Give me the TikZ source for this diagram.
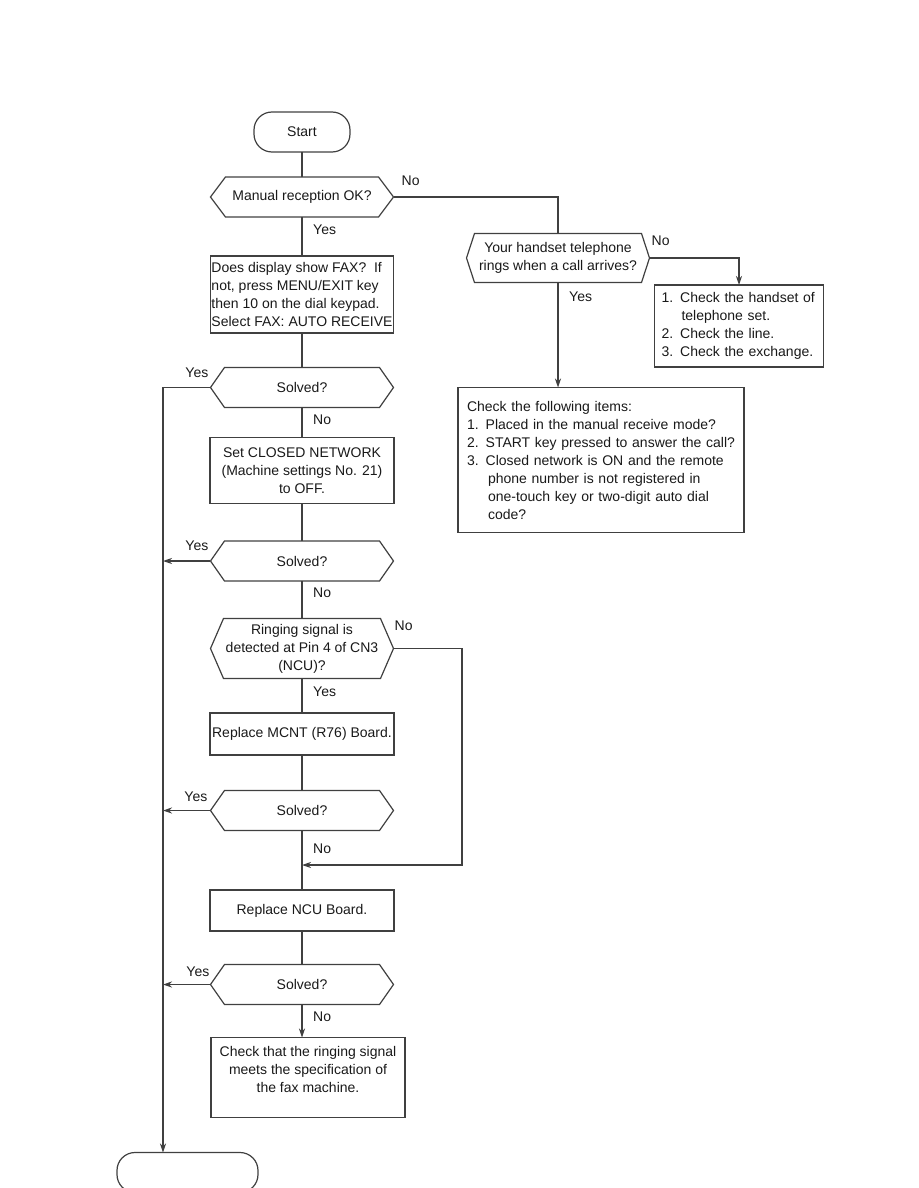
\documentclass[tikz,border=0pt]{standalone}
\usepackage{fontspec}
\setmainfont{Liberation Sans}
\usetikzlibrary{arrows.meta,positioning}

\begin{document}
\begin{tikzpicture}[
    node distance=33.5pt,
    every node/.style={font=\fontsize{14pt}{18pt}\selectfont, text=black!90},
    termbox/.style={draw=black!75, line width=1.2pt, rounded corners=18pt, minimum width=96pt, minimum height=40pt, outer sep=0pt},
    stepbox/.style={draw=black!75, line width=1.2pt, align=center, minimum width=184pt, inner sep=2pt, outer sep=0pt},
    askbox/.style={align=center, minimum width=183pt, minimum height=40pt, inner sep=0pt, outer sep=0pt},
    lbl/.style={inner sep=1pt},
    wire/.style={draw=black!75, line width=1.2pt},
    link/.style={wire, -{Stealth[length=9pt, width=6pt]}}
]
\useasboundingbox (-302pt,-1056pt) rectangle (616pt,132pt);
% main column
\node[termbox] (start) at (0,0) {Start};
\node[askbox, below=25pt of start] (ok) {Manual reception OK?};
\node[stepbox, align=left, inner xsep=1pt, minimum width=180pt, minimum height=77pt, below=39pt of ok] (fax) {Does display show FAX?~ If\\not, press MENU/EXIT key\\then 10 on the dial keypad.\\Select FAX: AUTO RECEIVE};
\node[askbox, below=34.5pt of fax] (solvedA) {Solved?};
\node[stepbox, minimum height=66pt, below=30pt of solvedA] (closed) {Set CLOSED NETWORK\\(Machine settings No. 21)\\to OFF.};
\node[askbox, below=37.5pt of closed] (solvedB) {Solved?};
\node[askbox, minimum height=60pt, below=37.5pt of solvedB] (ring) {Ringing signal is\\detected at Pin 4 of CN3\\(NCU)?};
\node[stepbox, minimum height=42pt, below=34.5pt of ring] (mcnt) {Replace MCNT (R76) Board.};
\node[askbox, below=35.5pt of mcnt] (solvedC) {Solved?};
\node[stepbox, minimum height=41pt, below=59.5pt of solvedC] (ncu) {Replace NCU Board.};
\node[askbox, below=of ncu] (solvedD) {Solved?};
\node[stepbox, minimum width=194pt, minimum height=80pt, below=33pt of solvedD, xshift=6pt] (spec) {Check that the ringing signal\\meets the specification of\\the fax machine.\\[-8pt]\strut};
\node[termbox, minimum width=141pt, below=35pt of spec, xshift=-120.5pt] (stop) {};
% right branch
\node[askbox, minimum height=49pt, right=73pt of ok, yshift=-61pt] (handset) {Your handset telephone\\rings when a call arrives?};
\node[stepbox, align=left, text width=155pt, inner xsep=7pt, minimum width=169pt, minimum height=82pt, right=5pt of handset, yshift=-68pt] (checks) {1. Check the handset of\\\hspace*{20pt}telephone set.\\2. Check the line.\\3. Check the exchange.};
\node[stepbox, align=left, text width=268pt, inner xsep=9pt, minimum height=145pt, below=105pt of handset, xshift=43pt] (items) {Check the following items:\\1. Placed in the manual receive mode?\\2. START key pressed to answer the call?\\3. Closed network is ON and the remote\\\hspace*{21pt}phone number is not registered in\\\hspace*{21pt}one-touch key or two-digit auto dial\\\hspace*{21pt}code?};
\coordinate (lane) at (-139pt,0);
\coordinate (loop) at (160pt,-733pt);
\coordinate (join) at (0,-733pt);
% hexagon outlines
\foreach \hx/\cut in {ok/15pt, solvedA/14pt, solvedB/14pt, ring/13pt, solvedC/14pt, solvedD/14pt, handset/8pt}
  \draw[wire] ([xshift=\cut]\hx.north west) -- ([xshift=-\cut]\hx.north east) -- (\hx.east)
    -- ([xshift=-\cut]\hx.south east) -- ([xshift=\cut]\hx.south west) -- (\hx.west) -- cycle;
% connectors
\draw[wire] (start) -- (ok);
\draw[wire] (ok) -- (fax);
\draw[wire] (fax) -- (solvedA);
\draw[wire] (solvedA) -- (closed);
\draw[wire] (closed) -- (solvedB);
\draw[wire] (solvedB) -- (ring);
\draw[wire] (ring) -- (mcnt);
\draw[wire] (mcnt) -- (solvedC);
\draw[wire] (solvedC) -- (ncu);
\draw[wire] (ncu) -- (solvedD);
\draw[link] (solvedD.south) -- (solvedD.south |- spec.north);
\draw[wire] (ok.east) -| (handset.north);
\draw[link] (handset.east) -| (checks.north);
\draw[link] (handset.south) -- (handset.south |- items.north);
\draw[link] (solvedA.west) -- (solvedA.west -| lane) -- (lane |- stop.north);
\draw[link] (solvedB.west) -- (solvedB.west -| lane);
\draw[link] (solvedC.west) -- (solvedC.west -| lane);
\draw[link] (solvedD.west) -- (solvedD.west -| lane);
\draw[link] (ring.east) -| (loop) -- (join);
% yes / no labels
\node[lbl, above right=10pt and 7pt of ok.east] (okNo) {No};
\node[lbl, below right=7pt and 10pt of ok.south] (okYes) {Yes};
\node[lbl, above left=9pt and 1pt of solvedA.west] (yesA) {Yes};
\node[lbl, below right=6pt and 10pt of solvedA.south] (noA) {No};
\node[lbl, above left=9pt and 1pt of solvedB.west] (yesB) {Yes};
\node[lbl, below right=6pt and 10pt of solvedB.south] (noB) {No};
\node[lbl, above right=17pt and 0pt of ring.east] (ringNo) {No};
\node[lbl, below right=7pt and 10pt of ring.south] (ringYes) {Yes};
\node[lbl, above left=8pt and 2pt of solvedC.west] (yesC) {Yes};
\node[lbl, below right=12pt and 10pt of solvedC.south] (noC) {No};
\node[lbl, above left=7pt and 0pt of solvedD.west] (yesD) {Yes};
\node[lbl, below right=6pt and 10pt of solvedD.south] (noD) {No};
\node[lbl, above right=11pt and 1pt of handset.east] (handNo) {No};
\node[lbl, below right=8pt and 10pt of handset.south] (handYes) {Yes};
\end{tikzpicture}
\end{document}
